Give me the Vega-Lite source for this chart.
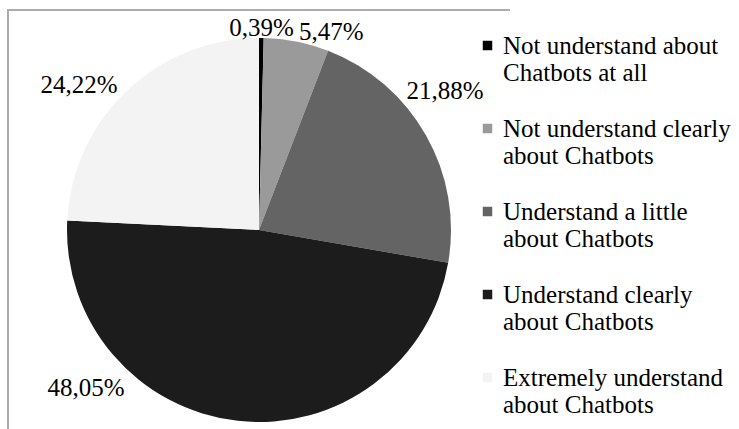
{
  "$schema": "https://vega.github.io/schema/vega-lite/v6.json",
  "width": 502,
  "height": 440,
  "autosize": "none",
  "padding": {"left": 8, "top": 10, "right": 229, "bottom": -21},
  "background": "white",
  "view": {"stroke": "#ababab", "strokeWidth": 2, "strokeDash": [502, 942, 440, 2]},
  "data": {
    "values": [
      {"category": "Not understand about Chatbots at all", "value": 0.39},
      {"category": "Not understand clearly about Chatbots", "value": 5.47},
      {"category": "Understand a little about Chatbots", "value": 21.88},
      {"category": "Understand clearly about Chatbots", "value": 48.05},
      {"category": "Extremely understand about Chatbots", "value": 24.22}
    ]
  },
  "transform": [
    {"window": [{"op": "sum", "field": "value", "as": "cum"}], "frame": [null, 0]},
    {"joinaggregate": [{"op": "sum", "field": "value", "as": "total"}]},
    {"calculate": "(datum.cum - datum.value) / datum.total * 360", "as": "a0"},
    {"calculate": "datum.cum / datum.total * 360", "as": "a1"},
    {"calculate": "(datum.a0 + datum.a1) / 2", "as": "mid"},
    {"calculate": "datum.mid > 45 && datum.mid < 135 ? 46 : (datum.mid >= 135 && datum.mid < 221 ? 221 : datum.mid)", "as": "la"},
    {"calculate": "replace(format(datum.value, '.2f'), '.', ',') + '%'", "as": "lbl"}
  ],
  "layer": [
    {
      "mark": {"type": "arc", "radius": 192, "strokeWidth": 0},
      "encoding": {
        "theta": {"field": "a0", "type": "quantitative", "stack": null, "scale": {"domain": [0, 360]}},
        "theta2": {"field": "a1"},
        "color": {
          "field": "category",
          "type": "nominal",
          "scale": {
            "domain": [
              "Not understand about Chatbots at all",
              "Not understand clearly about Chatbots",
              "Understand a little about Chatbots",
              "Understand clearly about Chatbots",
              "Extremely understand about Chatbots"
            ],
            "range": ["#000000", "#9a9a9a", "#646464", "#1c1c1c", "#f3f3f3"]
          },
          "legend": {
            "title": null,
            "orient": "right",
            "offset": -58,
            "padding": 23,
            "labelExpr": "indexof(datum.label, 'Chatbots at all') >= 0 ? [replace(datum.label, ' Chatbots at all', ''), 'Chatbots at all'] : [replace(datum.label, ' about Chatbots', ''), 'about Chatbots']",
            "symbolType": "square",
            "symbolSize": 90,
            "symbolStrokeWidth": 0,
            "labelFont": "Liberation Serif",
            "labelFontSize": 25,
            "labelLineHeight": 28,
            "labelColor": "black",
            "labelOffset": 3,
            "labelLimit": 400,
            "rowPadding": 30
          }
        }
      }
    },
    {
      "mark": {
        "type": "text",
        "radius": 205,
        "font": "Liberation Serif",
        "fontSize": 25,
        "color": "black",
        "baseline": "middle",
        "dy": 3,
        "align": {"expr": "sin(datum.la * PI / 180) > 0.1 ? 'left' : (sin(datum.la * PI / 180) < -0.1 ? 'right' : 'center')"}
      },
      "encoding": {
        "theta": {"field": "la", "type": "quantitative", "stack": null},
        "text": {"field": "lbl", "type": "nominal"}
      }
    }
  ]
}
